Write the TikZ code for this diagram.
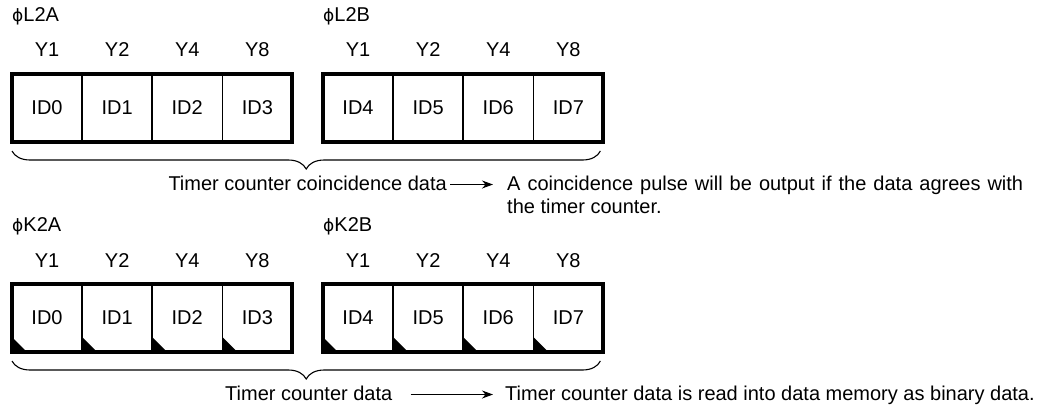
\documentclass[tikz,border=0pt]{standalone}
\usepackage{fontspec}
\setmainfont{Liberation Sans}
\newfontfamily\dejavu{DejaVu Sans}
\usetikzlibrary{decorations.pathreplacing,arrows.meta}
\newcommand{\fs}{\fontsize{20}{24}\selectfont}
\newcommand{\phisym}{{\dejavu\fontsize{17}{20}\selectfont ϕ}}
\begin{document}
\begin{tikzpicture}[x=1pt,y=-1pt,
  cell/.style={draw, line width=1.6pt, minimum width=70.1pt, minimum height=68pt,
    inner sep=0pt, outer sep=0pt, anchor=north west, font=\fs},
  ylab/.style={font=\fs, inner sep=0pt},
  glab/.style={font=\fs, inner sep=0pt, anchor=west},
  txt/.style={font=\fs, inner sep=0pt},
  frame/.style={line width=4pt},
  dogear/.style={fill=black},
  brc/.style={decorate, decoration={brace, mirror, amplitude=18pt}, line width=1.1pt},
  arr/.style={-{Stealth[length=11pt,width=8pt]}, line width=1.1pt}]
\useasboundingbox (0,0) rectangle (1042,408);

% ---------- top row (L2) ----------
\node[cell] (a0) at (12,74) {ID0};
\node[cell] (a1) at (a0.north east) {ID1};
\node[cell] (a2) at (a1.north east) {ID2};
\node[cell] (a3) at (a2.north east) {ID3};
\node[cell] (b0) at (323,74) {ID4};
\node[cell] (b1) at (b0.north east) {ID5};
\node[cell] (b2) at (b1.north east) {ID6};
\node[cell] (b3) at (b2.north east) {ID7};
\draw[frame] (a0.north west) rectangle (a3.south east);
\draw[frame] (b0.north west) rectangle (b3.south east);

\foreach \c/\t in {a0/Y1,a1/Y2,a2/Y4,a3/Y8,b0/Y1,b1/Y2,b2/Y4,b3/Y8}
  \node[ylab] (y\c) at ([yshift=24pt]\c.north) {\t};

\node[glab] (gL2A) at ([yshift=58pt]a0.north west) {\phisym L2A};
\node[glab] (gL2B) at ([yshift=58pt]b0.north west) {\phisym L2B};

\draw[brc] ([shift={(0pt,-9pt)}]a0.south west) -- ([shift={(-3pt,-9pt)}]b3.south east);

\node[txt, anchor=base east] (t1) at (447,190) {Timer counter coincidence data};
\node[txt, anchor=base west] (r1) at (507,190) {\makebox[516pt][s]{A coincidence pulse will be output if the data agrees with}};
\node[txt, anchor=base west] (r1b) at (507,213) {the timer counter.};
\draw[arr] ([shift={(3pt,5.5pt)}]t1.base east) -- ([shift={(-14pt,5.5pt)}]r1.base west);

% ---------- bottom row (K2) ----------
\node[cell] (c0) at (12,284) {ID0};
\node[cell] (c1) at (c0.north east) {ID1};
\node[cell] (c2) at (c1.north east) {ID2};
\node[cell] (c3) at (c2.north east) {ID3};
\node[cell] (d0) at (323,284) {ID4};
\node[cell] (d1) at (d0.north east) {ID5};
\node[cell] (d2) at (d1.north east) {ID6};
\node[cell] (d3) at (d2.north east) {ID7};
\foreach \c in {c0,c1,c2,c3,d0,d1,d2,d3}
  \fill[dogear] (\c.south west) -- ++(0,-15) -- ++(15,15) -- cycle;
\draw[frame] (c0.north west) rectangle (c3.south east);
\draw[frame] (d0.north west) rectangle (d3.south east);

\foreach \c/\t in {c0/Y1,c1/Y2,c2/Y4,c3/Y8,d0/Y1,d1/Y2,d2/Y4,d3/Y8}
  \node[ylab] (y\c) at ([yshift=23pt]\c.north) {\t};

\node[glab] (gK2A) at ([yshift=58pt]c0.north west) {\phisym K2A};
\node[glab] (gK2B) at ([yshift=58pt]d0.north west) {\phisym K2B};

\draw[brc] ([shift={(0pt,-9pt)}]c0.south west) -- ([shift={(-3pt,-9pt)}]d3.south east);

\node[txt, anchor=base west] (t2) at (225,400) {Timer counter data};
\node[txt, anchor=base west] (r2) at (505,400) {Timer counter data is read into data memory as binary data.};
\draw[arr] ([shift={(18pt,5.5pt)}]t2.base east) -- ([shift={(-12pt,5.5pt)}]r2.base west);
\end{tikzpicture}
\end{document}
